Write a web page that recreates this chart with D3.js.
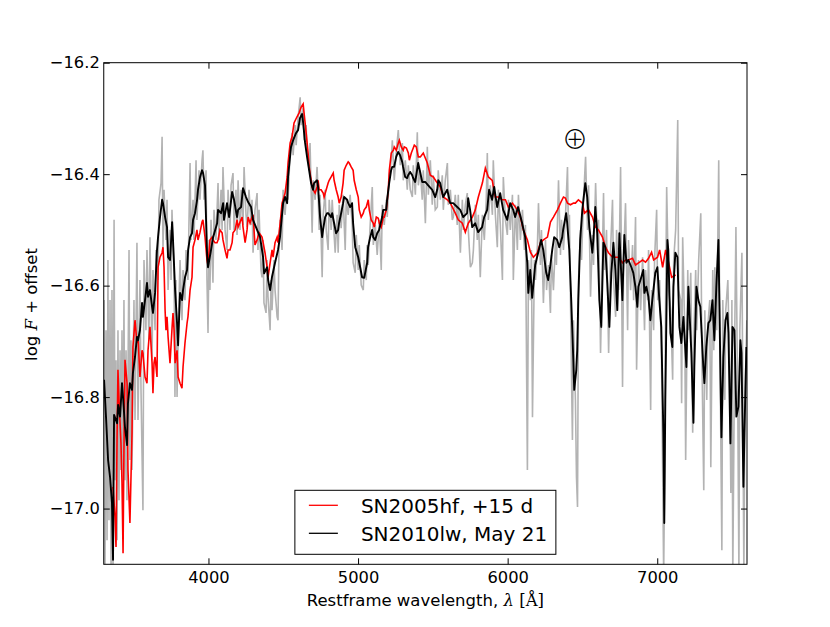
<!DOCTYPE html>
<html>
<head>
<meta charset="utf-8">
<script src="https://cdn.jsdelivr.net/npm/d3@7"></script>
<style>
  body { margin: 0; background: #fff; }
  #chart { width: 830px; height: 627px; }
  .axis text { font-family: "DejaVu Sans", sans-serif; font-size: 16.3px; fill: #000; }
  .axis line { stroke: #000; stroke-width: 1; }
</style>
</head>
<body>
<div id="chart"></div>
<script>

// wavelength range and ticks
const xDomain = [3300, 7600];
const yDomain = [-17.1, -16.2];
const xTicks = [4000, 5000, 6000, 7000];
const yTicks = [-17.0, -16.8, -16.6, -16.4, -16.2];

const legendLabels = ["SN2005hf, +15 d", "SN2010lw, May 21"];

// [restframe wavelength (A), log F + offset]
const sn2005hf = [
[3362,-16.961],[3375,-17.015],[3382,-17.069],[3389,-16.872],[3395,-16.751],[3402,-16.805],[3415,-16.882],[3422,-16.954],[3429,-17.080],[3435,-16.895],[3442,-16.733],[3456,-16.775],[3462,-16.931],[3475,-17.026],[3489,-16.864],[3495,-16.710],[3509,-16.662],[3522,-16.703],[3529,-16.692],[3542,-16.764],[3556,-16.716],[3562,-16.721],[3576,-16.764],[3589,-16.775],[3596,-16.716],[3609,-16.674],[3623,-16.739],[3629,-16.793],[3636,-16.739],[3643,-16.728],[3656,-16.764],[3663,-16.567],[3676,-16.549],[3690,-16.541],[3696,-16.531],[3703,-16.567],[3710,-16.644],[3716,-16.680],[3723,-16.656],[3730,-16.692],[3743,-16.739],[3757,-16.674],[3763,-16.649],[3770,-16.680],[3777,-16.739],[3790,-16.716],[3797,-16.764],[3810,-16.775],[3823,-16.784],[3830,-16.746],[3843,-16.703],[3857,-16.667],[3863,-16.656],[3877,-16.608],[3890,-16.585],[3897,-16.531],[3910,-16.518],[3923,-16.500],[3930,-16.518],[3943,-16.505],[3957,-16.486],[3963,-16.482],[3977,-16.513],[3990,-16.554],[3997,-16.563],[4010,-16.518],[4024,-16.513],[4030,-16.518],[4044,-16.523],[4057,-16.523],[4064,-16.518],[4077,-16.500],[4091,-16.505],[4097,-16.518],[4111,-16.536],[4124,-16.551],[4131,-16.536],[4144,-16.536],[4158,-16.523],[4164,-16.505],[4178,-16.500],[4191,-16.482],[4198,-16.495],[4211,-16.486],[4225,-16.477],[4231,-16.495],[4245,-16.523],[4258,-16.500],[4265,-16.477],[4278,-16.488],[4291,-16.477],[4298,-16.473],[4311,-16.527],[4325,-16.518],[4338,-16.505],[4358,-16.513],[4365,-16.522],[4378,-16.541],[4392,-16.567],[4398,-16.585],[4412,-16.559],[4425,-16.536],[4432,-16.549],[4445,-16.523],[4459,-16.513],[4465,-16.523],[4479,-16.488],[4492,-16.452],[4499,-16.446],[4512,-16.434],[4526,-16.405],[4532,-16.380],[4546,-16.344],[4559,-16.333],[4572,-16.308],[4592,-16.297],[4606,-16.290],[4619,-16.280],[4633,-16.274],[4639,-16.290],[4653,-16.326],[4666,-16.362],[4673,-16.387],[4693,-16.423],[4700,-16.428],[4713,-16.434],[4726,-16.423],[4733,-16.411],[4740,-16.428],[4753,-16.428],[4767,-16.434],[4773,-16.441],[4787,-16.428],[4800,-16.416],[4807,-16.411],[4820,-16.405],[4834,-16.398],[4840,-16.411],[4854,-16.428],[4867,-16.441],[4874,-16.452],[4887,-16.441],[4900,-16.416],[4907,-16.393],[4921,-16.384],[4934,-16.378],[4941,-16.380],[4954,-16.387],[4967,-16.393],[4974,-16.411],[4988,-16.428],[5001,-16.441],[5008,-16.464],[5021,-16.477],[5035,-16.470],[5041,-16.464],[5055,-16.459],[5068,-16.446],[5075,-16.464],[5088,-16.482],[5102,-16.488],[5108,-16.495],[5122,-16.477],[5135,-16.479],[5142,-16.488],[5155,-16.495],[5169,-16.477],[5175,-16.477],[5189,-16.464],[5202,-16.428],[5209,-16.393],[5222,-16.362],[5236,-16.357],[5242,-16.351],[5256,-16.357],[5269,-16.344],[5276,-16.339],[5289,-16.351],[5302,-16.357],[5309,-16.351],[5323,-16.353],[5336,-16.362],[5343,-16.375],[5356,-16.362],[5369,-16.353],[5376,-16.348],[5389,-16.351],[5403,-16.369],[5416,-16.369],[5436,-16.362],[5463,-16.380],[5483,-16.402],[5503,-16.405],[5530,-16.416],[5550,-16.423],[5570,-16.441],[5597,-16.446],[5617,-16.452],[5650,-16.470],[5670,-16.482],[5697,-16.488],[5717,-16.504],[5737,-16.488],[5764,-16.477],[5784,-16.464],[5804,-16.441],[5831,-16.416],[5851,-16.389],[5871,-16.405],[5897,-16.411],[5917,-16.441],[5938,-16.441],[5964,-16.446],[5985,-16.446],[6005,-16.459],[6032,-16.452],[6065,-16.464],[6085,-16.477],[6105,-16.500],[6132,-16.518],[6152,-16.540],[6172,-16.549],[6199,-16.541],[6219,-16.523],[6239,-16.518],[6266,-16.513],[6286,-16.486],[6306,-16.477],[6333,-16.464],[6353,-16.452],[6373,-16.441],[6386,-16.443],[6400,-16.452],[6420,-16.455],[6440,-16.452],[6453,-16.452],[6473,-16.446],[6500,-16.452],[6513,-16.470],[6540,-16.464],[6567,-16.477],[6587,-16.495],[6607,-16.500],[6634,-16.513],[6654,-16.531],[6674,-16.541],[6701,-16.549],[6721,-16.549],[6741,-16.549],[6768,-16.559],[6788,-16.554],[6808,-16.554],[6835,-16.551],[6855,-16.563],[6875,-16.559],[6902,-16.554],[6922,-16.558],[6942,-16.551],[6962,-16.540],[6976,-16.554],[7002,-16.549],[7016,-16.536],[7036,-16.567],[7056,-16.536],[7076,-16.559],[7096,-16.585],[7123,-16.581]
];

// smoothed SN2010lw spectrum
const sn2010lwSmooth = [
[3302,-16.769],[3315,-16.835],[3329,-16.913],[3342,-16.943],[3355,-16.990],[3362,-17.092],[3369,-16.832],[3389,-16.847],[3396,-16.814],[3409,-16.835],[3422,-16.775],[3429,-16.800],[3442,-16.854],[3456,-16.886],[3462,-16.811],[3475,-16.775],[3489,-16.787],[3495,-16.757],[3509,-16.728],[3522,-16.692],[3529,-16.698],[3542,-16.680],[3556,-16.631],[3562,-16.656],[3576,-16.626],[3589,-16.595],[3596,-16.620],[3609,-16.608],[3623,-16.638],[3629,-16.649],[3643,-16.613],[3656,-16.536],[3663,-16.513],[3676,-16.477],[3690,-16.446],[3696,-16.452],[3710,-16.477],[3723,-16.495],[3730,-16.549],[3743,-16.554],[3757,-16.486],[3763,-16.518],[3777,-16.608],[3790,-16.667],[3797,-16.707],[3810,-16.613],[3824,-16.626],[3830,-16.608],[3844,-16.584],[3857,-16.572],[3864,-16.536],[3877,-16.513],[3890,-16.506],[3897,-16.482],[3910,-16.470],[3924,-16.446],[3930,-16.428],[3944,-16.405],[3957,-16.393],[3964,-16.398],[3977,-16.420],[3991,-16.545],[3997,-16.567],[4017,-16.536],[4031,-16.513],[4058,-16.488],[4064,-16.464],[4084,-16.470],[4098,-16.452],[4104,-16.482],[4124,-16.452],[4138,-16.477],[4158,-16.432],[4171,-16.446],[4191,-16.477],[4198,-16.464],[4218,-16.459],[4231,-16.425],[4251,-16.441],[4265,-16.450],[4285,-16.459],[4298,-16.482],[4325,-16.500],[4345,-16.513],[4365,-16.549],[4372,-16.578],[4392,-16.567],[4399,-16.590],[4412,-16.608],[4425,-16.584],[4445,-16.559],[4465,-16.536],[4478,-16.513],[4499,-16.452],[4512,-16.441],[4526,-16.452],[4532,-16.405],[4552,-16.351],[4566,-16.339],[4586,-16.326],[4599,-16.321],[4612,-16.299],[4626,-16.292],[4633,-16.308],[4646,-16.344],[4659,-16.369],[4673,-16.393],[4686,-16.416],[4699,-16.428],[4706,-16.416],[4726,-16.411],[4733,-16.423],[4746,-16.477],[4760,-16.513],[4766,-16.500],[4780,-16.477],[4793,-16.470],[4800,-16.470],[4820,-16.477],[4827,-16.470],[4840,-16.488],[4853,-16.506],[4867,-16.500],[4873,-16.488],[4887,-16.470],[4900,-16.452],[4907,-16.441],[4927,-16.446],[4934,-16.452],[4947,-16.459],[4960,-16.452],[4967,-16.488],[4981,-16.531],[5001,-16.549],[5014,-16.567],[5027,-16.585],[5041,-16.586],[5061,-16.559],[5067,-16.531],[5081,-16.513],[5094,-16.500],[5101,-16.513],[5114,-16.518],[5128,-16.506],[5141,-16.500],[5161,-16.477],[5168,-16.464],[5188,-16.464],[5194,-16.446],[5208,-16.416],[5221,-16.393],[5228,-16.387],[5241,-16.387],[5255,-16.369],[5268,-16.360],[5281,-16.366],[5295,-16.378],[5301,-16.387],[5315,-16.405],[5328,-16.407],[5335,-16.402],[5348,-16.396],[5362,-16.402],[5368,-16.407],[5382,-16.414],[5402,-16.380],[5429,-16.414],[5449,-16.414],[5469,-16.420],[5496,-16.428],[5516,-16.441],[5529,-16.428],[5536,-16.411],[5549,-16.416],[5569,-16.441],[5596,-16.428],[5616,-16.452],[5636,-16.452],[5663,-16.459],[5683,-16.464],[5703,-16.477],[5729,-16.470],[5736,-16.443],[5749,-16.464],[5763,-16.495],[5783,-16.488],[5803,-16.504],[5829,-16.495],[5843,-16.477],[5863,-16.464],[5876,-16.428],[5896,-16.446],[5910,-16.423],[5930,-16.459],[5950,-16.434],[5970,-16.464],[5997,-16.482],[6017,-16.452],[6037,-16.464],[6050,-16.477],[6070,-16.459],[6097,-16.488],[6117,-16.513],[6131,-16.559],[6138,-16.613],[6151,-16.572],[6164,-16.622],[6184,-16.563],[6204,-16.541],[6224,-16.518],[6238,-16.536],[6258,-16.577],[6271,-16.590],[6284,-16.567],[6298,-16.536],[6311,-16.513],[6331,-16.518],[6345,-16.531],[6365,-16.513],[6371,-16.500],[6391,-16.470],[6398,-16.488],[6412,-16.536],[6425,-16.626],[6439,-16.734],[6445,-16.787],[6459,-16.751],[6465,-16.716],[6472,-16.626],[6485,-16.518],[6499,-16.464],[6519,-16.416],[6532,-16.441],[6546,-16.495],[6566,-16.541],[6573,-16.518],[6586,-16.459],[6599,-16.506],[6613,-16.626],[6626,-16.674],[6640,-16.523],[6653,-16.531],[6666,-16.595],[6680,-16.674],[6693,-16.577],[6707,-16.523],[6720,-16.572],[6733,-16.644],[6747,-16.506],[6767,-16.626],[6780,-16.509],[6794,-16.559],[6807,-16.554],[6827,-16.567],[6840,-16.577],[6854,-16.602],[6867,-16.638],[6874,-16.602],[6894,-16.584],[6907,-16.572],[6914,-16.613],[6927,-16.602],[6941,-16.620],[6954,-16.662],[6967,-16.626],[6987,-16.577],[7001,-16.567],[7014,-16.626],[7027,-16.674],[7041,-16.865],[7047,-17.026],[7054,-16.805],[7068,-16.518],[7074,-16.536],[7088,-16.685],[7101,-16.710],[7108,-16.602],[7121,-16.541],[7135,-16.549],[7148,-16.674],[7161,-16.703],[7175,-16.656],[7181,-16.685],[7195,-16.746],[7208,-16.602],[7228,-16.721],[7242,-16.846],[7248,-16.746],[7262,-16.602],[7275,-16.626],[7288,-16.638],[7308,-16.746],[7315,-16.775],[7328,-16.710],[7342,-16.667],[7355,-16.662],[7369,-16.626],[7382,-16.698],[7395,-16.602],[7409,-16.518],[7415,-16.626],[7429,-16.872],[7442,-16.728],[7456,-16.662],[7469,-16.649],[7476,-16.685],[7489,-16.883],[7503,-16.674],[7516,-16.680],[7529,-16.835],[7543,-16.817],[7556,-16.698],[7563,-16.721],[7576,-16.961],[7583,-16.864],[7596,-16.710]
];

// unsmoothed SN2010lw spectrum (grey)
const sn2010lwRaw = [
[3302,-16.626],[3308,-17.12],[3315,-16.680],[3322,-17.057],[3328,-16.554],[3335,-17.021],[3342,-16.626],[3349,-17.12],[3355,-16.608],[3362,-17.12],[3369,-16.482],[3375,-16.949],[3382,-16.734],[3389,-17.057],[3395,-16.680],[3402,-16.985],[3409,-16.716],[3415,-16.931],[3422,-16.680],[3429,-16.967],[3435,-16.626],[3442,-16.949],[3449,-16.716],[3455,-16.985],[3469,-16.536],[3475,-16.913],[3482,-16.698],[3489,-16.931],[3502,-16.626],[3509,-16.841],[3522,-16.523],[3529,-16.841],[3542,-16.590],[3549,-16.787],[3562,-17.003],[3569,-16.554],[3582,-16.680],[3589,-16.536],[3602,-16.698],[3609,-16.513],[3623,-16.734],[3629,-16.572],[3643,-16.680],[3649,-16.536],[3663,-16.590],[3669,-16.446],[3683,-16.416],[3690,-16.333],[3696,-16.536],[3703,-16.428],[3716,-16.518],[3723,-16.446],[3730,-16.608],[3743,-16.500],[3750,-16.590],[3756,-16.464],[3770,-16.572],[3776,-16.800],[3783,-16.590],[3790,-16.800],[3803,-16.626],[3810,-16.554],[3823,-16.662],[3830,-16.572],[3843,-16.626],[3850,-16.536],[3863,-16.590],[3870,-16.482],[3877,-16.380],[3883,-16.518],[3897,-16.446],[3903,-16.518],[3917,-16.375],[3923,-16.482],[3937,-16.393],[3943,-16.446],[3957,-16.375],[3963,-16.357],[3970,-16.446],[3984,-16.393],[3990,-16.590],[3997,-16.685],[4004,-16.518],[4010,-16.608],[4017,-16.482],[4030,-16.595],[4037,-16.464],[4050,-16.518],[4064,-16.416],[4070,-16.518],[4084,-16.428],[4091,-16.500],[4097,-16.387],[4111,-16.500],[4124,-16.536],[4131,-16.428],[4144,-16.500],[4151,-16.420],[4164,-16.398],[4171,-16.500],[4184,-16.428],[4191,-16.509],[4198,-16.411],[4211,-16.500],[4218,-16.428],[4231,-16.491],[4238,-16.387],[4251,-16.473],[4258,-16.495],[4271,-16.428],[4285,-16.491],[4291,-16.446],[4298,-16.541],[4311,-16.464],[4325,-16.434],[4331,-16.536],[4338,-16.464],[4351,-16.572],[4358,-16.585],[4365,-16.518],[4371,-16.631],[4385,-16.649],[4392,-16.554],[4398,-16.620],[4412,-16.680],[4418,-16.590],[4425,-16.644],[4438,-16.554],[4445,-16.608],[4459,-16.656],[4465,-16.662],[4472,-16.518],[4479,-16.482],[4492,-16.536],[4499,-16.428],[4512,-16.473],[4526,-16.416],[4532,-16.446],[4546,-16.357],[4559,-16.326],[4566,-16.366],[4579,-16.312],[4586,-16.348],[4599,-16.299],[4613,-16.262],[4619,-16.312],[4633,-16.280],[4639,-16.339],[4653,-16.312],[4659,-16.357],[4673,-16.393],[4679,-16.344],[4693,-16.505],[4700,-16.411],[4713,-16.446],[4726,-16.387],[4733,-16.434],[4740,-16.500],[4746,-16.437],[4760,-16.585],[4767,-16.473],[4780,-16.428],[4787,-16.500],[4800,-16.536],[4807,-16.446],[4820,-16.500],[4827,-16.446],[4840,-16.509],[4847,-16.541],[4860,-16.473],[4867,-16.541],[4874,-16.455],[4887,-16.497],[4900,-16.437],[4914,-16.536],[4921,-16.446],[4934,-16.473],[4947,-16.437],[4961,-16.491],[4967,-16.559],[4981,-16.577],[4988,-16.509],[5001,-16.572],[5008,-16.527],[5021,-16.599],[5035,-16.608],[5041,-16.554],[5055,-16.590],[5061,-16.527],[5068,-16.563],[5081,-16.491],[5095,-16.423],[5102,-16.527],[5115,-16.491],[5128,-16.545],[5142,-16.482],[5155,-16.572],[5162,-16.455],[5175,-16.491],[5189,-16.446],[5195,-16.477],[5209,-16.402],[5222,-16.375],[5229,-16.339],[5242,-16.411],[5256,-16.357],[5269,-16.321],[5282,-16.384],[5296,-16.344],[5302,-16.411],[5316,-16.375],[5329,-16.428],[5336,-16.384],[5349,-16.428],[5363,-16.441],[5369,-16.384],[5383,-16.437],[5396,-16.325],[5403,-16.420],[5416,-16.393],[5429,-16.446],[5436,-16.393],[5450,-16.488],[5463,-16.351],[5470,-16.437],[5483,-16.375],[5496,-16.455],[5503,-16.402],[5516,-16.464],[5530,-16.459],[5536,-16.393],[5550,-16.446],[5563,-16.402],[5570,-16.464],[5583,-16.411],[5597,-16.380],[5603,-16.455],[5617,-16.428],[5630,-16.482],[5637,-16.477],[5650,-16.437],[5663,-16.491],[5670,-16.437],[5684,-16.541],[5697,-16.446],[5704,-16.500],[5717,-16.455],[5730,-16.434],[5737,-16.500],[5751,-16.567],[5764,-16.559],[5771,-16.536],[5784,-16.455],[5797,-16.518],[5804,-16.473],[5817,-16.585],[5831,-16.473],[5844,-16.518],[5857,-16.446],[5864,-16.362],[5871,-16.482],[5884,-16.420],[5898,-16.473],[5904,-16.375],[5918,-16.473],[5931,-16.531],[5938,-16.428],[5951,-16.491],[5965,-16.590],[5971,-16.405],[5985,-16.482],[5998,-16.509],[6005,-16.446],[6018,-16.500],[6032,-16.437],[6038,-16.590],[6052,-16.455],[6065,-16.536],[6072,-16.437],[6085,-16.518],[6099,-16.464],[6112,-16.536],[6119,-16.491],[6132,-16.931],[6139,-16.554],[6152,-16.626],[6159,-16.536],[6166,-16.836],[6179,-16.554],[6186,-16.590],[6199,-16.527],[6206,-16.452],[6219,-16.563],[6226,-16.500],[6239,-16.631],[6253,-16.518],[6260,-16.608],[6273,-16.563],[6286,-16.649],[6293,-16.545],[6306,-16.608],[6320,-16.518],[6326,-16.563],[6340,-16.411],[6353,-16.545],[6360,-16.482],[6373,-16.536],[6387,-16.473],[6400,-16.387],[6407,-16.518],[6413,-16.473],[6420,-16.626],[6433,-16.877],[6440,-16.662],[6453,-16.805],[6460,-16.943],[6467,-16.997],[6474,-16.590],[6487,-16.500],[6494,-16.554],[6507,-16.446],[6521,-16.369],[6534,-16.500],[6541,-16.420],[6554,-16.620],[6567,-16.509],[6574,-16.563],[6588,-16.416],[6601,-16.536],[6608,-16.482],[6621,-16.721],[6628,-16.626],[6641,-16.434],[6648,-16.572],[6661,-16.500],[6675,-16.721],[6688,-16.536],[6701,-16.446],[6708,-16.590],[6722,-16.656],[6728,-16.500],[6742,-16.608],[6755,-16.387],[6768,-16.782],[6775,-16.554],[6788,-16.452],[6802,-16.680],[6808,-16.518],[6822,-16.608],[6835,-16.527],[6842,-16.626],[6855,-16.477],[6862,-16.751],[6875,-16.554],[6889,-16.644],[6902,-16.549],[6915,-16.680],[6922,-16.572],[6936,-16.626],[6942,-16.536],[6956,-16.823],[6962,-16.608],[6976,-16.680],[6982,-16.554],[6996,-16.464],[7003,-16.626],[7016,-16.590],[7029,-16.734],[7043,-17.12],[7049,-16.949],[7056,-16.626],[7063,-16.423],[7076,-16.608],[7090,-16.644],[7103,-16.769],[7110,-16.554],[7123,-16.500],[7137,-16.303],[7143,-16.608],[7157,-16.626],[7163,-16.811],[7170,-16.513],[7184,-16.680],[7190,-16.913],[7204,-16.572],[7210,-16.680],[7224,-16.577],[7237,-16.864],[7244,-16.698],[7257,-16.572],[7264,-16.680],[7277,-16.554],[7291,-16.470],[7298,-16.716],[7311,-16.967],[7318,-16.644],[7331,-16.805],[7338,-16.674],[7351,-16.626],[7358,-16.926],[7371,-16.572],[7378,-16.716],[7385,-16.567],[7398,-16.680],[7411,-16.375],[7418,-16.680],[7432,-17.075],[7438,-16.626],[7452,-16.805],[7458,-16.644],[7472,-16.590],[7485,-16.769],[7492,-16.972],[7499,-16.626],[7505,-17.12],[7519,-16.662],[7526,-16.495],[7539,-16.841],[7546,-17.12],[7552,-16.680],[7566,-16.541],[7573,-16.841],[7579,-17.12],[7586,-16.805],[7599,-16.662],[7606,-16.805]
];

// telluric marker position
const telluric = {wave: 6450, flux: -16.335, label: "\u2295"};

const width = 830;
const height = 627;
const margin = {top: 62.7, right: 83, bottom: 62.7, left: 103.75};

const svg = d3.select("#chart")
    .append("svg")
    .attr("width", width)
    .attr("height", height);

const xScale = d3.scaleLinear()
    .domain(xDomain)
    .range([margin.left, width - margin.right]);

const yScale = d3.scaleLinear()
    .domain(yDomain)
    .range([height - margin.bottom, margin.top]);

svg.append("clipPath")
    .attr("id", "plot-clip")
  .append("rect")
    .attr("x", margin.left)
    .attr("y", margin.top)
    .attr("width", width - margin.left - margin.right)
    .attr("height", height - margin.top - margin.bottom);

const line = d3.line()
    .x(function(d) { return xScale(d[0]); })
    .y(function(d) { return yScale(d[1]); });

const plot = svg.append("g").attr("clip-path", "url(#plot-clip)");

plot.append("path")
    .datum(sn2010lwRaw)
    .attr("d", line)
    .attr("fill", "none")
    .attr("stroke", "#b3b3b3")
    .attr("stroke-width", 1.6);

plot.append("path")
    .datum(sn2005hf)
    .attr("d", line)
    .attr("fill", "none")
    .attr("stroke", "#ff0000")
    .attr("stroke-width", 1.6);

plot.append("path")
    .datum(sn2010lwSmooth)
    .attr("d", line)
    .attr("fill", "none")
    .attr("stroke", "#000000")
    .attr("stroke-width", 1.9)
    .attr("stroke-linejoin", "round");

/* axes: ticks point inward on all four sides */

svg.append("g")
    .attr("class", "axis")
    .attr("transform", `translate(0,${yScale.range()[0]})`)
    .call(d3.axisBottom(xScale).tickValues(xTicks).tickSizeInner(-6).tickSizeOuter(0)
        .tickPadding(7).tickFormat(d3.format("d")));

svg.append("g")
    .attr("class", "axis")
    .attr("transform", `translate(0,${yScale.range()[1]})`)
    .call(d3.axisTop(xScale).tickValues(xTicks).tickSizeInner(-6).tickSizeOuter(0).tickFormat(""));

svg.append("g")
    .attr("class", "axis")
    .attr("transform", `translate(${xScale.range()[0]},0)`)
    .call(d3.axisLeft(yScale).tickValues(yTicks).tickSizeInner(-6).tickSizeOuter(0)
        .tickPadding(4).tickFormat(d3.format(".1f")));

svg.append("g")
    .attr("class", "axis")
    .attr("transform", `translate(${xScale.range()[1]},0)`)
    .call(d3.axisRight(yScale).tickValues(yTicks).tickSizeInner(-6).tickSizeOuter(0).tickFormat(""));

svg.selectAll(".axis .domain").remove();

svg.append("rect")
    .attr("x", margin.left)
    .attr("y", margin.top)
    .attr("width", width - margin.left - margin.right)
    .attr("height", height - margin.top - margin.bottom)
    .attr("fill", "none")
    .attr("stroke", "#000")
    .attr("stroke-width", 1);

/* telluric symbol */

svg.append("text")
    .attr("x", xScale(telluric.wave))
    .attr("y", yScale(telluric.flux))
    .attr("text-anchor", "middle")
    .attr("dominant-baseline", "central")
    .attr("font-family", "Noto Sans CJK JP, DejaVu Sans")
    .attr("font-weight", 300)
    .attr("font-size", 26)
    .text(telluric.label);

/* axis labels */

const xLabel = svg.append("text")
    .attr("x", (xScale.range()[0] + xScale.range()[1]) / 2)
    .attr("y", 606)
    .attr("text-anchor", "middle")
    .attr("font-family", "DejaVu Sans")
    .attr("font-size", 16.5);
xLabel.append("tspan").text("Restframe wavelength, ");
xLabel.append("tspan").attr("font-family", "DejaVu Serif").attr("font-style", "italic").text("\u03bb");
xLabel.append("tspan").attr("font-family", "DejaVu Serif").text(" [\u00c5]");

const yLabel = svg.append("text")
    .attr("transform", `translate(37,${(yScale.range()[0] + yScale.range()[1]) / 2 - 9}) rotate(-90)`)
    .attr("text-anchor", "middle")
    .attr("font-family", "DejaVu Sans")
    .attr("font-size", 16.5);
yLabel.append("tspan").text("log ");
yLabel.append("tspan").attr("font-family", "DejaVu Serif").attr("font-style", "italic").text("F");
yLabel.append("tspan").text(" + offset");

/* legend, lower centre */

const legendW = 261, legendH = 64;
const legend = svg.append("g")
    .attr("transform", `translate(${(xScale.range()[0] + xScale.range()[1]) / 2 - legendW / 2},${yScale.range()[0] - 10 - legendH})`);

legend.append("rect")
    .attr("width", legendW)
    .attr("height", legendH)
    .attr("fill", "#fff")
    .attr("stroke", "#000")
    .attr("stroke-width", 1);

const legendColors = ["#ff0000", "#000000"];
legendLabels.forEach(function(label, i) {
    const ly = 15 + i * 28;
    legend.append("line")
        .attr("x1", 14).attr("x2", 43)
        .attr("y1", ly).attr("y2", ly)
        .attr("stroke", legendColors[i])
        .attr("stroke-width", 1.3);
    legend.append("text")
        .attr("x", 66)
        .attr("y", ly + 8)
        .attr("font-family", "DejaVu Sans")
        .attr("font-size", 20)
        .text(label);
});

</script>
</body>
</html>
